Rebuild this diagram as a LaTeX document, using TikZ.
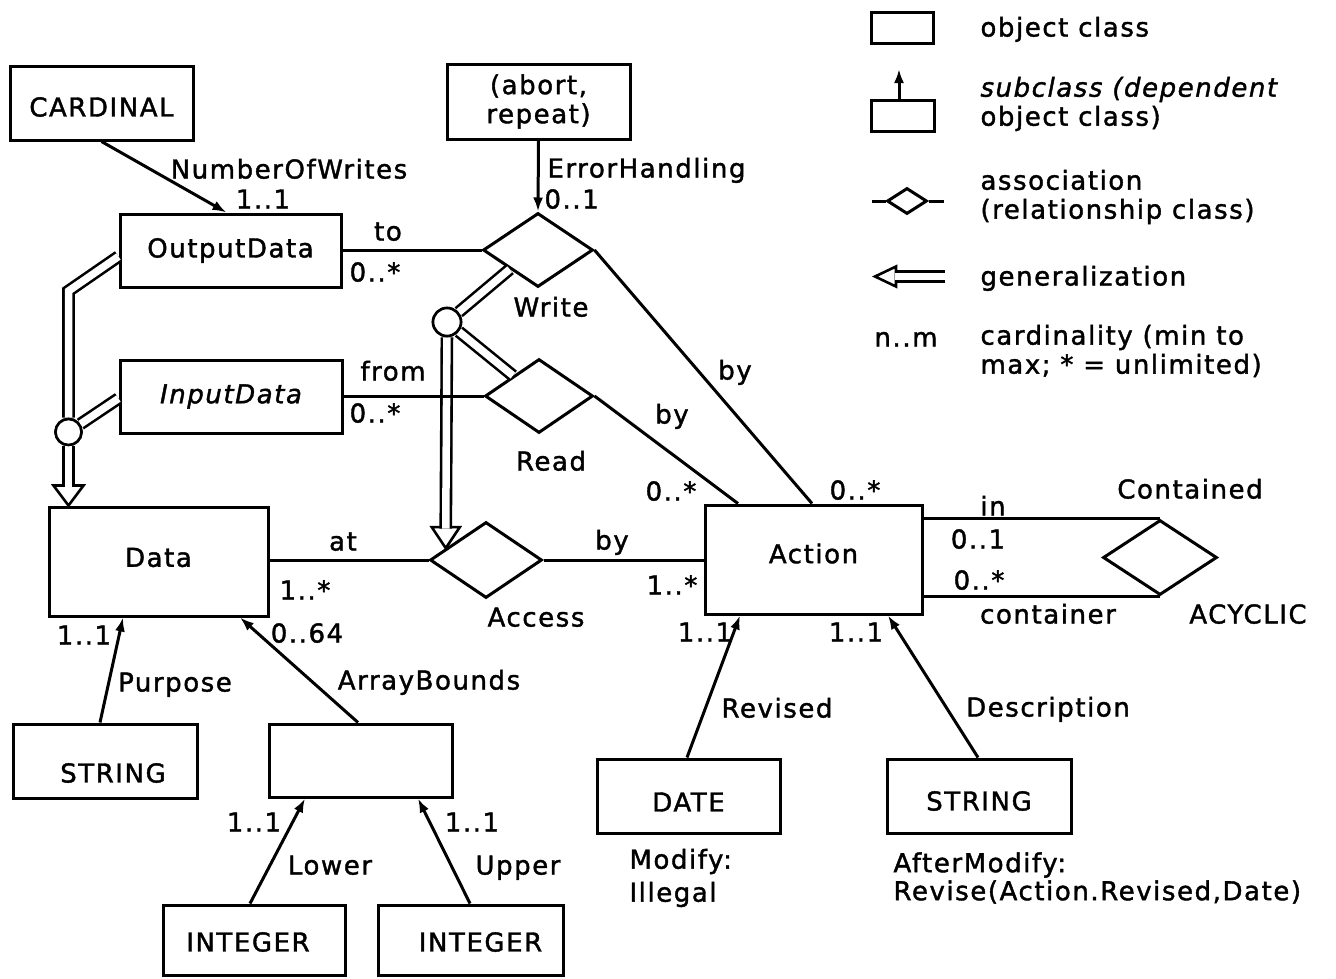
\documentclass[tikz,border=0pt]{standalone}
\usepackage{fontspec}
\setmainfont{DejaVu Sans}[LetterSpace=6,FakeBold=1.5]
\usetikzlibrary{shapes.geometric,arrows.meta,calc}
\newcommand{\sxy}[3]{\hspace*{#1}\raisebox{#2}[\height][\depth]{#3}}
\begin{document}
\begin{tikzpicture}[x=1pt,y=-1pt,line width=3pt,line join=miter,
  font=\fontsize{26}{29}\selectfont,
  box/.style={draw,rectangle,inner sep=0pt},
  assoc/.style={draw,diamond,inner sep=0pt},
  ring/.style={draw,circle,inner sep=0pt,fill=white,line width=2.6pt},
  lab/.style={inner sep=0pt,text height=19pt,text depth=0pt},
  ml/.style={inner sep=0pt,align=left,anchor=west},
  dep/.style={-{Latex[length=14pt,width=10pt]}},
  gen/.style={double,double distance=7.5pt,line width=2.6pt},
  ghead/.style={draw,fill=white,line width=2.6pt}]

\fill[white] (0,0) rectangle (1336,978);
\useasboundingbox (0,0) rectangle (1336,978);

% ---------- object classes ----------
\node[box,minimum width=183pt,minimum height=74pt] (card) at (101.5,103) {\sxy{0pt}{-4pt}{CARDINAL}};
\node[box,minimum width=183pt,minimum height=75pt,align=center] (abort) at (538.5,101.5) {(abort,\\repeat)};
\node[box,minimum width=221pt,minimum height=73pt] (out) at (230.5,250.5) {OutputData};
\node[box,minimum width=222pt,minimum height=73pt] (inp) at (231,396.5) {\itshape InputData};
\node[box,minimum width=219pt,minimum height=109pt] (data) at (158.5,561.5) {\sxy{0pt}{4pt}{Data}};
\node[box,minimum width=217pt,minimum height=109pt] (act) at (813.5,559.5) {\sxy{0pt}{6pt}{Action}};
\node[box,minimum width=184pt,minimum height=74pt] (str1) at (105,761) {\sxy{16pt}{-12pt}{STRING}};
\node[box,minimum width=183pt,minimum height=73pt] (blank) at (360.5,760.5) {};
\node[box,minimum width=182pt,minimum height=70pt] (int1) at (254,940) {\sxy{-12pt}{-2pt}{INTEGER}};
\node[box,minimum width=185pt,minimum height=70pt] (int2) at (470.5,940) {\sxy{20pt}{-2pt}{INTEGER}};
\node[box,minimum width=183pt,minimum height=74pt] (date) at (688.5,796) {\sxy{0pt}{-6pt}{DATE}};
\node[box,minimum width=184pt,minimum height=74pt] (str2) at (979,796) {\sxy{0pt}{-5pt}{STRING}};

% ---------- associations ----------
\node[assoc,minimum width=110pt,minimum height=74pt] (write) at (538,250) {};
\node[assoc,minimum width=108pt,minimum height=74pt] (read) at (539,396) {};
\node[assoc,minimum width=112pt,minimum height=76pt] (access) at (486,560) {};
\node[assoc,minimum width=114pt,minimum height=75pt] (contained) at (1160,557.5) {};

% ---------- generalization hubs ----------
\node[ring,minimum size=26pt] (c1) at (68.5,432) {};
\node[ring,minimum size=28pt] (c2) at (447,322) {};

% ---------- generalizations ----------
\coordinate (g1) at (68.5,291);
\draw[gen] ([yshift=-6pt]out.west) -- (g1) -- (c1);
\draw[gen] ([yshift=-2pt]inp.west) -- (c1);
\draw[ghead] (data.north -| c1) -- ++(-15,-20) -- ++(30,0) -- cycle;
\draw[gen] (c1) -- ($(data.north -| c1)+(0,-18.5)$);

\coordinate (atip) at ($(access.west)!0.3!(access.north)$);
\draw[gen] ($(write.west)!0.5!(write.south)$) -- (c2);
\draw[gen] ($(read.west)!0.53!(read.north)$) -- (c2);
\draw[ghead] (atip) -- ++(-14,-21) -- ++(28,0) -- cycle;
\draw[gen] (c2) -- ($(atip)+(0,-19.5)$);
\node[ring,minimum size=26pt] at (c1) {};
\node[ring,minimum size=28pt] at (c2) {};

% ---------- associations' links ----------
\draw (out.east |- write.west) -- (write.west);
\draw (inp.east |- read.west) -- (read.west);
\draw (write.east) -- ([xshift=-1.5pt]act.north);
\draw (read.east) -- ([xshift=-75.5pt]act.north);
\draw (data.east |- access.west) -- (access.west);
\draw (access.east) -- (access.east -| act.west);
\draw (contained.north) -- (contained.north -| act.east);
\draw (contained.south) -- (contained.south -| act.east);

% ---------- dependent classes ----------
\draw[dep] (card.south) -- ([xshift=-4pt]out.north);
\draw[dep] (abort.south) -- (write.north);
\draw[dep] ([xshift=-5pt]str1.north) -- ([xshift=-35.5pt]data.south);
\draw[dep] ([xshift=-2.5pt]blank.north) -- ([xshift=81.5pt]data.south);
\draw[dep] ([xshift=-4pt]int1.north) -- ([xshift=-55.5pt]blank.south);
\draw[dep] ([xshift=-0.5pt]int2.north) -- ([xshift=57.5pt]blank.south);
\draw[dep] ([xshift=-1.5pt]date.north) -- ([xshift=-73.5pt]act.south);
\draw[dep] ([xshift=-1pt]str2.north) -- ([xshift=74.5pt]act.south);

% ---------- labels ----------
\node[lab] (t1) at (289,169) {NumberOfWrites};
\node[lab] (t2) at (263,199) {1..1};
\node[lab] (t3) at (388,231) {to};
\node[lab] (t4) at (375,272) {0..*};
\node[lab,anchor=west] (t5) at (546,168) {ErrorHandling};
\node[lab,anchor=west] (t6) at (543,199) {0..1};
\node[lab] (t7) at (551,307) {Write};
\node[lab] (t8) at (393,371) {from};
\node[lab] (t9) at (375,413) {0..*};
\node[lab] (t10) at (551,461) {Read};
\node[lab] (t11) at (735,370) {by};
\node[lab] (t12) at (672,414) {by};
\node[lab] (t13) at (671,491) {0..*};
\node[lab] (t14) at (855,490) {0..*};
\node[lab] (t15) at (612,540) {by};
\node[lab] (t16) at (672,585) {1..*};
\node[lab] (t17) at (343,541) {at};
\node[lab] (t18) at (305,590) {1..*};
\node[lab] (t19) at (536,617) {Access};
\node[lab] (t20) at (993,506) {in};
\node[lab] (t21) at (978,539) {0..1};
\node[lab] (t22) at (979,580) {0..*};
\node[lab] (t23) at (1048,614) {container};
\node[lab] (t24) at (1190,489) {Contained};
\node[lab] (t25) at (1248,614) {ACYCLIC};
\node[lab] (t26) at (84,635) {1..1};
\node[lab] (t27) at (175,682) {Purpose};
\node[lab] (t28) at (307,633) {0..64};
\node[lab] (t29) at (429,680) {ArrayBounds};
\node[lab] (t30) at (254,822) {1..1};
\node[lab] (t31) at (330,865) {Lower};
\node[lab] (t32) at (472,822) {1..1};
\node[lab] (t33) at (518,865) {Upper};
\node[lab] (t34) at (705,632) {1..1};
\node[lab] (t35) at (777,708) {Revised};
\node[lab] (t36) at (856,632) {1..1};
\node[lab] (t37) at (1048,707) {Description};
\node[ml] (t38) at (628,878) {Modify:\\[4pt]Illegal};
\node[ml] (t39) at (892,878) {AfterModify:\\[-1pt]Revise(Action.Revised,Date)};

% ---------- legend ----------
\node[box,minimum width=62pt,minimum height=31pt] (lbox1) at (902,27.5) {};
\node[box,minimum width=63pt,minimum height=31pt] (lbox2) at (902.5,115.5) {};
\coordinate (ltip) at (899,69);
\draw[dep] ([xshift=-3.5pt]lbox2.north) -- (ltip);
\node[assoc,minimum width=40pt,minimum height=26pt] (lassoc) at (907,201) {};
\coordinate (la1) at (872,201);
\coordinate (la2) at (944,201);
\draw (la1) -- (lassoc.west);
\draw (lassoc.east) -- (la2);
\coordinate (lg0) at (875,276.5);
\coordinate (lg1) at (945,276.5);
\draw[ghead] (lg0) -- ++(21,-10) -- ++(0,20) -- cycle;
\draw[gen] (lg1) -- ($(lg0)+(19.5,0)$);
\node[lab,anchor=west] (n1) at (979,27) {object class};
\node[ml] (n2) at (979,104) {\itshape subclass (dependent\\object class)};
\node[ml] (n3) at (979,197) {association\\(relationship class)};
\node[lab,anchor=west] (n4) at (979,276) {generalization};
\node[lab,anchor=west] (n5) at (873,337) {n..m};
\node[ml] (n6) at (979,351) {cardinality (min to\\max; * = unlimited)};
\end{tikzpicture}
\end{document}
